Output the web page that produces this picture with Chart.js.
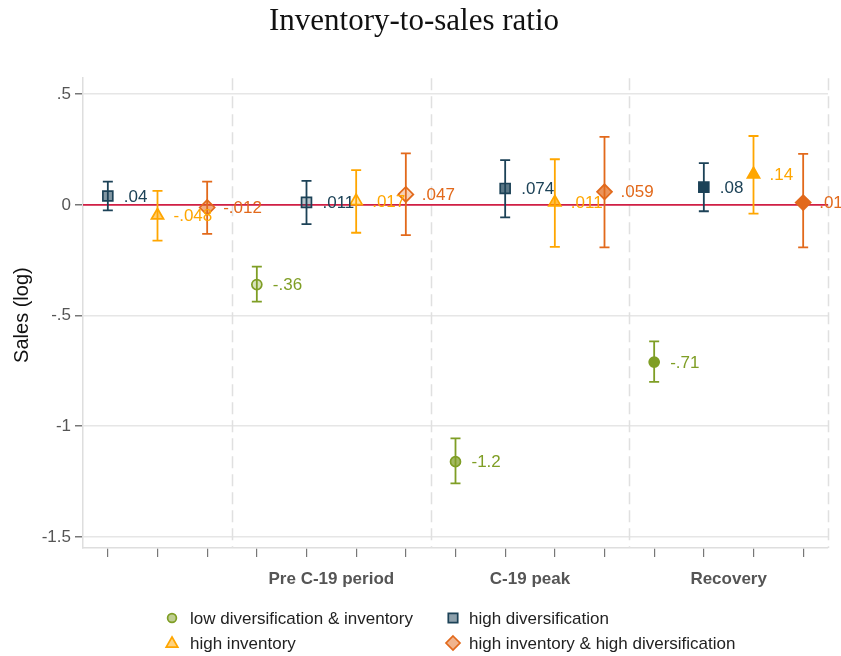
<!DOCTYPE html>
<html><head><meta charset="utf-8">
<script src="https://cdn.jsdelivr.net/npm/chart.js@4.4.1/dist/chart.umd.min.js"></script>
<style>html,body{margin:0;padding:0;background:#fff}#wrap{position:relative;width:841px;height:656px}</style>
</head><body><div id="wrap"><canvas id="c"></canvas></div>
<script>
// ---- data ----
const titleText = 'Inventory-to-sales ratio';
const yTitle = 'Sales (log)';
const seriesNames = ['low diversification & inventory', 'high diversification', 'high inventory', 'high inventory & high diversification'];
const groupLabels = ['Pre C-19 period', 'C-19 peak', 'Recovery'];
const groupCenters = [5.5, 9.5, 13.5];
const slots = [1, 2, 3, 4, 5, 6, 7, 8, 9, 10, 11, 12, 13, 14, 15];
const dividers = [3.5, 7.5, 11.5, 15.5];
const yTicks = [-1.5, -1, -0.5, 0, 0.5];

const lowDivX  = [4, 8, 12];
const lowDivY  = [-0.36, -1.16, -0.71];
const lowDivLo = [-0.437, -1.258, -0.80];
const lowDivHi = [-0.279, -1.055, -0.617];

const highDivX  = [1, 5, 9, 13];
const highDivY  = [0.04, 0.011, 0.074, 0.08];
const highDivLo = [-0.025, -0.087, -0.057, -0.029];
const highDivHi = [0.105, 0.108, 0.202, 0.188];

const highInvX  = [2, 6, 10, 14];
const highInvY  = [-0.048, 0.017, 0.011, 0.138];
const highInvLo = [-0.162, -0.126, -0.19, -0.04];
const highInvHi = [0.063, 0.157, 0.206, 0.311];

const bothX  = [3, 7, 11, 15];
const bothY  = [-0.012, 0.047, 0.059, 0.01];
const bothLo = [-0.131, -0.137, -0.192, -0.192];
const bothHi = [0.105, 0.232, 0.307, 0.23];

// ---- styles ----
const colors = ['#7f9e25', '#1c4257', '#ffa600', '#e2691b'];
const styles = ['circle', 'rect', 'triangle', 'rectRot'];
const radii = [5, 7, 7, 7.5];
const periodAlpha = [0.55, 0.3, 0.72, 1];
const FONT = "'Liberation Sans', Arial, sans-serif";

function hexA(hex, a) {
  const n = parseInt(hex.slice(1), 16);
  return `rgba(${(n >> 16) & 255},${(n >> 8) & 255},${n & 255},${a})`;
}
function periodOf(x) { return x <= 3 ? 0 : x <= 7 ? 1 : x <= 11 ? 2 : 3; }
function fmt(v) {
  let s = Number(Number(v).toPrecision(2)).toString();
  return s.replace(/^(-?)0\./, '$1.');
}

const seriesX = [lowDivX, highDivX, highInvX, bothX];
const seriesY = [lowDivY, highDivY, highInvY, bothY];
const seriesLo = [lowDivLo, highDivLo, highInvLo, bothLo];
const seriesHi = [lowDivHi, highDivHi, highInvHi, bothHi];

const datasets = seriesNames.map((name, s) => ({
  label: name,
  data: seriesX[s].map((x, i) => ({ x: x, y: seriesY[s][i] })),
  pointStyle: styles[s],
  pointRadius: radii[s],
  pointHoverRadius: radii[s],
  borderColor: colors[s],
  pointBorderWidth: 1.7,
  backgroundColor: seriesX[s].map(x => hexA(colors[s], periodAlpha[periodOf(x)])),
  showLine: false
}));

const decorPlugin = {
  id: 'decor',
  beforeDatasetsDraw(chart) {
    const { ctx, chartArea: a, scales: { x, y } } = chart;
    ctx.save();
    // dashed dividers
    ctx.strokeStyle = '#e0e0e0';
    ctx.lineWidth = 1.5;
    ctx.setLineDash([12, 6]);
    dividers.forEach(d => {
      const px = Math.round(x.getPixelForValue(d)) + 0.5;
      ctx.beginPath(); ctx.moveTo(px, a.top); ctx.lineTo(px, a.bottom); ctx.stroke();
    });
    ctx.setLineDash([]);
    // zero line
    const y0 = y.getPixelForValue(0);
    ctx.strokeStyle = '#d11f45';
    ctx.lineWidth = 1.6;
    ctx.beginPath(); ctx.moveTo(a.left, y0); ctx.lineTo(a.right, y0); ctx.stroke();
    // error bars
    ctx.lineWidth = 1.8;
    seriesX.forEach((xs, s) => {
      ctx.strokeStyle = colors[s];
      xs.forEach((xv, i) => {
        const px = x.getPixelForValue(xv);
        const pl = y.getPixelForValue(seriesLo[s][i]);
        const ph = y.getPixelForValue(seriesHi[s][i]);
        ctx.beginPath();
        ctx.moveTo(px, pl); ctx.lineTo(px, ph);
        ctx.moveTo(px - 5, pl); ctx.lineTo(px + 5, pl);
        ctx.moveTo(px - 5, ph); ctx.lineTo(px + 5, ph);
        ctx.stroke();
      });
    });
    ctx.restore();
  },
  afterDatasetsDraw(chart) {
    const { ctx } = chart;
    ctx.save();
    ctx.font = `17px ${FONT}`;
    ctx.textAlign = 'left';
    ctx.textBaseline = 'middle';
    chart.data.datasets.forEach((ds, s) => {
      const meta = chart.getDatasetMeta(s);
      meta.data.forEach((pt, i) => {
        ctx.fillStyle = colors[s];
        ctx.fillText(fmt(seriesY[s][i]), pt.x + 16, pt.y + 1);
      });
    });
    ctx.restore();
  },
  afterDraw(chart) {
    const { ctx } = chart;
    ctx.save();
    // y-axis title
    ctx.font = `20px ${FONT}`;
    ctx.fillStyle = '#111';
    ctx.textAlign = 'center';
    ctx.textBaseline = 'middle';
    ctx.translate(22, (chart.chartArea.top + chart.chartArea.bottom) / 2 + 2);
    ctx.rotate(-Math.PI / 2);
    ctx.fillText(yTitle, 0, 0);
    ctx.restore();
    // legend
    ctx.save();
    const cols = [172, 453];
    const rows = [618, 643];
    const order = [[0, 0, 0], [1, 1, 0], [2, 0, 1], [3, 1, 1]];
    ctx.font = `17px ${FONT}`;
    ctx.textBaseline = 'middle';
    ctx.textAlign = 'left';
    order.forEach(([s, c, r]) => {
      const cx = cols[c], cy = rows[r];
      ctx.fillStyle = hexA(colors[s], 0.5);
      ctx.strokeStyle = colors[s];
      ctx.lineWidth = 1.7;
      ctx.beginPath();
      if (styles[s] === 'circle') ctx.arc(cx, cy, 4.4, 0, Math.PI * 2);
      else if (styles[s] === 'rect') ctx.rect(cx - 4.7, cy - 4.7, 9.4, 9.4);
      else if (styles[s] === 'triangle') { ctx.moveTo(cx, cy - 6); ctx.lineTo(cx + 5.8, cy + 4.2); ctx.lineTo(cx - 5.8, cy + 4.2); ctx.closePath(); }
      else { ctx.moveTo(cx, cy - 7); ctx.lineTo(cx + 7, cy); ctx.lineTo(cx, cy + 7); ctx.lineTo(cx - 7, cy); ctx.closePath(); }
      ctx.fill(); ctx.stroke();
      ctx.fillStyle = '#222';
      ctx.fillText(seriesNames[s], cx + (c === 0 ? 18 : 16), cy + 1);
    });
    ctx.restore();
  }
};

Chart.defaults.font.family = FONT;
new Chart(document.getElementById('c'), {
  type: 'scatter',
  data: { datasets },
  plugins: [decorPlugin],
  options: {
    responsive: true,
    maintainAspectRatio: false,
    animation: false,
    events: [],
    layout: { padding: { left: 0, right: 13, top: 0, bottom: 60 } },
    plugins: {
      legend: { display: false },
      tooltip: { enabled: false },
      title: {
        display: true, text: titleText, color: '#111',
        font: { family: "'Liberation Serif', 'Times New Roman', serif", size: 31, weight: 'normal' },
        padding: { top: 3, bottom: 38 }
      }
    },
    scales: {
      x: {
        type: 'linear', position: 'bottom', min: 0.5, max: 15.5,
        afterBuildTicks(scale) {
          scale.ticks = slots.concat(groupCenters).sort((a, b) => a - b).map(v => ({ value: v }));
        },
        afterFit(scale) { scale.height = 48; },
        border: { display: true, color: '#dedede', width: 1.5 },
        grid: {
          drawOnChartArea: false, drawTicks: true, tickLength: 9, lineWidth: 1.2,
          tickColor: (c) => (c.tick && Number.isInteger(c.tick.value)) ? '#777' : 'rgba(0,0,0,0)'
        },
        ticks: {
          autoSkip: false, maxRotation: 0, minRotation: 0, padding: 12,
          color: '#555', font: { size: 17, weight: 'bold' },
          callback: (v) => { const k = groupCenters.indexOf(v); return k >= 0 ? groupLabels[k] : ''; }
        }
      },
      y: {
        type: 'linear', min: -1.55, max: 0.572,
        afterBuildTicks(scale) { scale.ticks = yTicks.map(v => ({ value: v })); },
        afterFit(scale) { scale.width = 83; },
        border: { display: true, color: '#dedede', width: 1.5 },
        grid: { color: '#e6e6e6', lineWidth: 1.5, tickColor: '#777', tickLength: 8, drawTicks: true },
        ticks: { color: '#555', font: { size: 17 }, padding: 4, callback: (v) => fmt(v) }
      }
    }
  }
});
</script>
</body></html>
